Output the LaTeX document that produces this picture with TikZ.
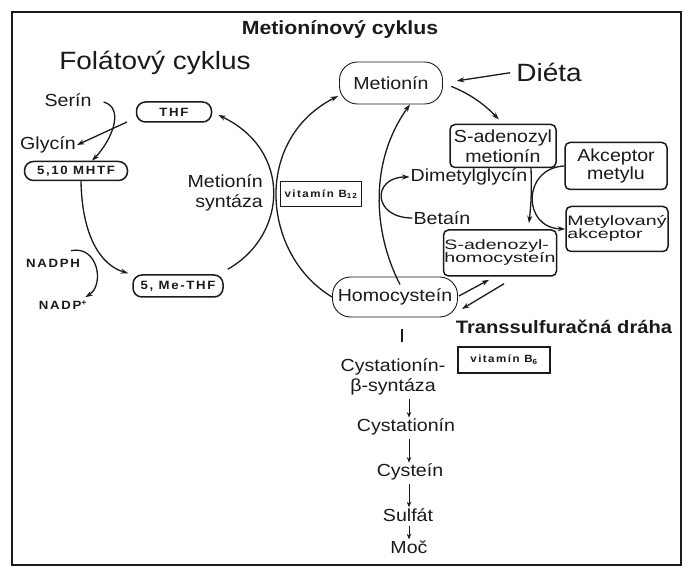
\documentclass[tikz,border=0pt]{standalone}
\usepackage{fontspec}
\setmainfont{Liberation Sans}[FakeStretch=1.12]
\newfontfamily\labfont{Liberation Sans}[FakeStretch=1.1,LetterSpace=14]
\usepackage{graphicx}
\usepackage{tikz}
\usetikzlibrary{arrows.meta, positioning, calc}
\definecolor{InkBlack}{HTML}{1A1A1A}
\newcommand{\bodyfont}{\fontsize{17.5}{20}\selectfont}
\newcommand{\squish}[2][l]{\scalebox{1}[0.78]{\fontsize{17.5}{16}\selectfont\begin{tabular}{@{}#1@{}}#2\end{tabular}}}
\tikzset{
  lab/.style={font=\bodyfont, inner sep=1pt},
  tag/.style={font=\labfont\bfseries\fontsize{12}{13}\selectfont, inner sep=0pt},
  pill/.style={tag, draw, line width=1.5pt, rounded corners=9pt, minimum height=20pt},
  oval/.style={lab, draw, line width=0.9pt, rounded corners=18pt},
  softbox/.style={lab, draw, line width=1.5pt, rounded corners=5pt, inner sep=0pt},
  vitbox/.style={draw, line width=1.5pt, inner sep=0pt, font=\labfont\bfseries\fontsize{10.5}{11}\selectfont},
  arr/.style={line width=1.3pt, -{Stealth[length=7.5pt,width=5pt]}},
  chainarr/.style={line width=1pt, -{Stealth[length=5.5pt,width=4.5pt]}},
  link/.style={line width=1.3pt}
}

\begin{document}
\begin{tikzpicture}[x=1pt, y=-1pt, color=InkBlack]
\useasboundingbox (0,0) rectangle (688,569);
\draw[line width=1.8pt] (12,12) rectangle (681,565);

% titles
\node[font=\bfseries\fontsize{19}{22}\selectfont] (title) at (340,30) {Metionínový cyklus};
\node[font=\fontsize{25}{28}\selectfont, inner sep=1pt] (folTitle) at (155,63) {Folátový cyklus};
\node[font=\fontsize{25}{28}\selectfont, inner sep=1pt] (dieta) at (549,72) {Diéta};

% methionine cycle
\node[oval, minimum width=103pt, minimum height=42pt] (met) at (391,83) {Metionín};
\node[softbox, minimum width=106pt, minimum height=43pt, align=center] (sam) at (503,146) {S-adenozyl\\metionín};
\node[softbox, minimum width=102pt, minimum height=47pt, align=center, font=\fontsize{17.5}{18}\selectfont] (akc) at (616,166) {Akceptor\\metylu};
\node[softbox, minimum width=102pt, minimum height=45pt] (mety) at (617,229) {\squish{Metylovaný\\akceptor}};
\node[softbox, minimum width=113pt, minimum height=46pt] (sah) at (500,253) {\squish{S-adenozyl-\\homocysteín}};
\node[lab] (dmg) at (469,177) {Dimetylglycín};
\node[lab] (betain) at (442,218) {Betaín};
\node[vitbox, minimum width=81pt, minimum height=25pt] (vitB12) at (321,194) {vitamín B\textsubscript{12}};
\node[lab, align=right, anchor=east] (metSyn) at (264,193) {Metionín\\syntáza};
\node[oval, minimum width=125pt, minimum height=40pt] (homo) at (395,297) {Homocysteín};

% folate cycle
\node[pill, minimum width=75pt] (thf) at (174,112) {THF};
\node[pill, minimum width=103pt, minimum height=19pt] (mhtf) at (76,171) {5,10 MHTF};
\node[pill, minimum width=90pt, minimum height=22pt] (meThf) at (178,286) {5, Me-THF};
\node[lab] (serin) at (68,100) {Serín};
\node[lab] (glycin) at (48,145) {Glycín};
\node[tag] (nadph) at (53,263) {NADPH};
\node[tag] (nadp) at (63,305) {NADP\textsuperscript{+}};

% transsulfuration
\node[lab, align=center] (cbs) at (393,377) {Cystationín-\\β-syntáza};
\node[lab] (cysta) at (406,427) {Cystationín};
\node[lab] (cyst) at (410,472) {Cysteín};
\node[lab] (sulf) at (408,515) {Sulfát};
\node[lab] (moc) at (409,547) {Moč};
\node[font=\bfseries\fontsize{18}{20}\selectfont] (transs) at (564,327) {Transsulfuračná dráha};
\node[vitbox, minimum width=92pt, minimum height=26pt] (vitB6) at (504,360) {vitamín B\textsubscript{6}};

% connectors
\draw[arr, shorten <=5pt, shorten >=14pt] (dieta.west) -- (met.east);
\draw[arr, shorten <=9pt, shorten >=6pt] (met.east) to[bend left=12] (sam.north);
\draw[arr] ($(sam.south)+(28,0)$) to[bend left=4] ($(sah.north)+(29,-6)$);
\draw[arr] (akc.west) .. controls (522,168) and (522,228) .. (mety.west);
\draw[arr] (betain.west) .. controls (372,218) and (372,177) .. (dmg.west);
\draw[arr] ($(homo.north)+(5,8)$) .. controls (372,230) and (370,160) .. ($(met.south)+(19,0)$);
\draw[arr] (homo.west) .. controls (262,255) and (252,140) .. ($(met.west)+(-1,13)$);
\draw[arr] ($(homo.east)+(1,-1)$) -- ($(sah.south)+(-11,3)$);
\draw[arr] ($(sah.south)+(4,7)$) -- ($(homo.east)+(4,12)$);

\draw[arr] ($(meThf.north east)+(4,-5)$) .. controls (288,235) and (292,150) .. ($(thf.east)+(6,3)$);
\draw[arr] ($(mhtf.south)+(5,0)$) .. controls (82,235) and (100,265) .. ($(meThf.north west)+(-4,-1)$);
\draw[arr] ($(serin.east)+(11,2)$) .. controls (125,108) and (112,140) .. ($(mhtf.north)+(16,0)$);
\coordinate (glyStart) at (127,122);
\draw[arr] (glyStart) -- (glycin.east);
\draw[arr] ($(nadph.north east)+(-9,-8)$) .. controls (98,245) and (105,285) .. ($(nadp.north east)+(-2,-3)$);

\coordinate (barTop) at (402,329);
\draw[link] (barTop) -- ++(0,13);
\coordinate (chainX) at (409,0);
\draw[chainarr, shorten <=3pt] (cbs.south -| chainX) -- (cysta.north -| chainX);
\draw[chainarr, shorten <=3pt] (cysta.south -| chainX) -- (cyst.north -| chainX);
\draw[chainarr, shorten <=3pt] (cyst.south -| chainX) -- (sulf.north -| chainX);
\draw[chainarr, shorten <=3pt] (sulf.south -| chainX) -- (moc.north -| chainX);
\end{tikzpicture}
\end{document}
